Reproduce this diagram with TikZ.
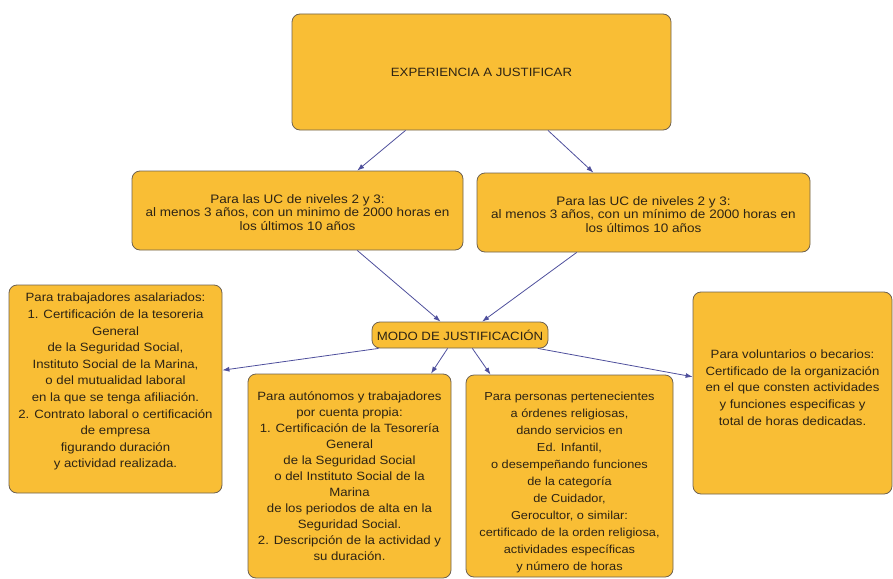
\documentclass[tikz,border=0pt]{standalone}
\usepackage{fontspec}
\setmainfont{Liberation Sans}[FakeStretch=1.1]
\usepackage{tikz}
\usetikzlibrary{arrows.meta,calc}
\definecolor{amarillo}{HTML}{F9BE35}
\definecolor{borde}{HTML}{6E6150}
\definecolor{flecha}{HTML}{4E4F9C}
\definecolor{texto}{HTML}{2E2414}

\begin{document}
\begin{tikzpicture}[x=1pt,y=-1pt,
  caja/.style={draw=borde,fill=amarillo,rounded corners=8pt,line width=0.8pt,
    align=center,text=texto,inner sep=2pt,font=\fontsize{12}{16.6}\selectfont},
  flechita/.style={draw=flecha,line width=0.8pt,-{Latex[length=7pt,width=5pt]}}]
\useasboundingbox (0,0) rectangle (893,578);
\clip (0,0) rectangle (893,578);
% nivel superior
\node[caja,minimum width=379pt,minimum height=116pt] (exp) at (481.5,72)
  {EXPERIENCIA A JUSTIFICAR};
\node[caja,minimum width=331pt,minimum height=79pt,font=\fontsize{12.3}{13.6}\selectfont] (ucIzq) at (297.5,210.5)
  {\rule{0pt}{13pt}Para las UC de niveles 2 y 3:\\ al menos 3 años, con un minimo de 2000 horas en\\ los últimos 10 años};
\node[caja,minimum width=333pt,minimum height=79pt,font=\fontsize{12.3}{13.6}\selectfont] (ucDer) at (643.5,212.5)
  {\rule{0pt}{13pt}Para las UC de niveles 2 y 3:\\ al menos 3 años, con un mínimo de 2000 horas en\\ los últimos 10 años};
\node[caja,minimum width=176pt,minimum height=26pt] (modo) at (460,335)
  {MODO DE JUSTIFICACIÓN};
% casos
\node[caja,minimum width=213pt,minimum height=208pt] (asal) at (115.5,389)
  {Para trabajadores asalariados:\\ 1. Certificación de la tesoreria\\ General\\ de la Seguridad Social,\\
   Instituto Social de la Marina,\\ o del mutualidad laboral\\ en la que se tenga afiliación.\\
   2. Contrato laboral o certificación\\ de empresa\\ figurando duración\\ y actividad realizada.\rule[-17pt]{0pt}{0pt}};
\node[caja,minimum width=203pt,minimum height=204pt,font=\fontsize{12}{16}\selectfont] (auto) at (349.5,476)
  {Para autónomos y trabajadores\\ por cuenta propia:\\ 1. Certificación de la Tesorería\\ General\\
   de la Seguridad Social\\ o del Instituto Social de la\\ Marina\\ de los periodos de alta en la\\
   Seguridad Social.\\ 2. Descripción de la actividad y\\ su duración.};
\node[caja,minimum width=207pt,minimum height=202pt,font=\fontsize{11.6}{17}\selectfont] (relig) at (569.5,476)
  {\rule{0pt}{21pt}Para personas pertenecientes\\ a órdenes religiosas,\\ dando servicios en\\ Ed. Infantil,\\
   o desempeñando funciones\\ de la categoría\\ de Cuidador,\\ Gerocultor, o similar:\\
   certificado de la orden religiosa,\\ actividades específicas\\ y número de horas};
\node[caja,minimum width=199pt,minimum height=202pt] (volun) at (792.5,393)
  {Para voluntarios o becarios:\\ Certificado de la organización\\ en el que consten actividades\\
   y funciones especificas y\\ total de horas dedicadas.\rule[-11pt]{0pt}{0pt}};
% flechas
\draw[flechita] ($(exp.south west)!0.30!(exp.south east)$) -- ($(ucIzq.north west)!0.68!(ucIzq.north east)$);
\draw[flechita] ($(exp.south west)!0.675!(exp.south east)$) -- ($(ucDer.north west)!0.35!(ucDer.north east)$);
\draw[flechita] ($(ucIzq.south west)!0.68!(ucIzq.south east)$) -- ($(modo.north west)!0.39!(modo.north east)$);
\draw[flechita] ($(ucDer.south west)!0.30!(ucDer.south east)$) -- ($(modo.north west)!0.625!(modo.north east)$);
\draw[flechita] ($(modo.south west)!0.04!(modo.south east)$) -- ($(asal.north east)!0.41!(asal.south east)$);
\draw[flechita] ($(modo.south west)!0.43!(modo.south east)$) -- ($(auto.north west)!0.90!(auto.north east)$);
\draw[flechita] ($(modo.south west)!0.57!(modo.south east)$) -- ($(relig.north west)!0.12!(relig.north east)$);
\draw[flechita] ($(modo.south west)!0.94!(modo.south east)$) -- ($(volun.north west)!0.42!(volun.south west)$);
\end{tikzpicture}
\end{document}
